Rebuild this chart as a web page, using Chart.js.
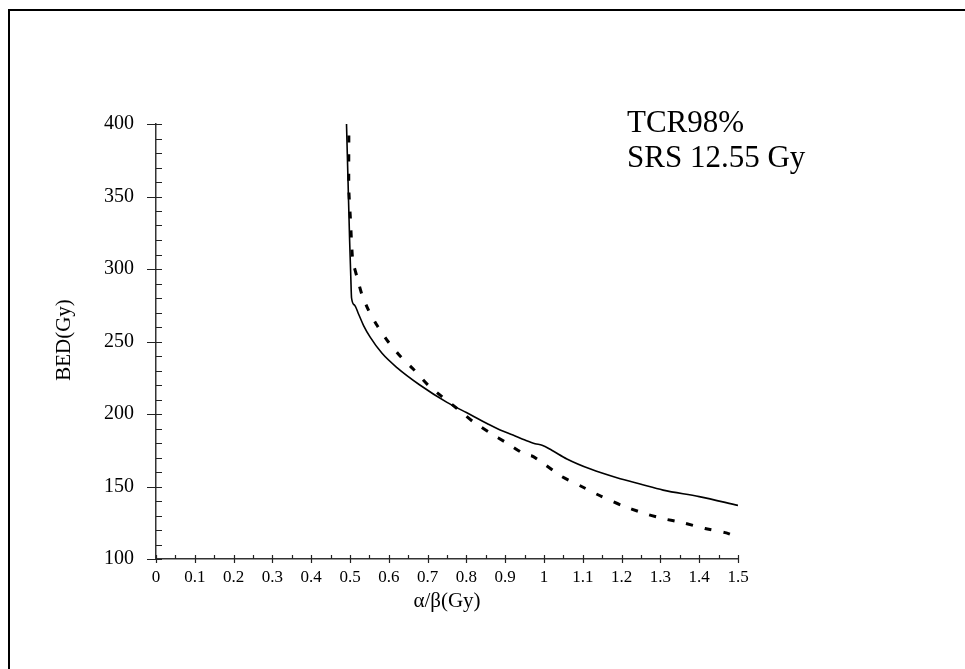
<!DOCTYPE html>
<html>
<head>
<meta charset="utf-8">
<script src="https://cdn.jsdelivr.net/npm/chart.js@4"></script>
<style>
  body { margin: 0; background: #fff; }
  #wrap { position: relative; width: 965px; height: 669px; }
</style>
</head>
<body>
<div id="wrap"><canvas id="bedChart"></canvas></div>
<script>
// alpha/beta (Gy) vs BED (Gy), two curves
const solidX = [0.491, 0.495, 0.499, 0.502, 0.504, 0.512, 0.522, 0.535, 0.552, 0.582, 0.621, 0.68, 0.75, 0.80, 0.853, 0.887, 0.92, 0.951, 0.977, 0.995, 1.02, 1.059, 1.12, 1.188, 1.25, 1.307, 1.40, 1.50];
const solidY = [400, 360, 320, 295, 280, 275, 269, 261, 253, 242, 232, 220, 208, 201, 193.5, 189, 185.5, 182, 179.5, 178.5, 175, 169, 162, 156, 151.5, 147.5, 143, 137];
const dashX = [0.497, 0.497, 0.501, 0.507, 0.518, 0.53, 0.547, 0.57, 0.598, 0.629, 0.663, 0.701, 0.737, 0.775, 0.818, 0.861, 0.904, 0.951, 0.97, 1.003, 1.045, 1.097, 1.149, 1.2, 1.252, 1.304, 1.358, 1.415, 1.47, 1.5];
const dashY = [392, 355, 335, 306, 294.5, 283, 272, 261, 250, 240, 231, 220, 212, 204, 194.5, 187, 180, 172, 171, 165, 157, 150, 143, 137, 132, 128, 125, 121, 118, 115];
const xTicks = [0, 0.1, 0.2, 0.3, 0.4, 0.5, 0.6, 0.7, 0.8, 0.9, 1, 1.1, 1.2, 1.3, 1.4, 1.5];
const yTicks = [100, 150, 200, 250, 300, 350, 400];
const noteLines = ['TCR98%', 'SRS 12.55 Gy'];

const serif = '"Liberation Serif", "DejaVu Serif", serif';

function toPoints(xs, ys) {
    return xs.map((x, i) => ({ x: x, y: ys[i] }));
}

// frame, minor/major ticks, axis titles and the note
const decor = {
    id: 'decor',
    beforeDraw(chart) {
        const c = chart.ctx;
        c.save();
        c.strokeStyle = '#000';
        c.lineWidth = 2;
        c.beginPath();
        c.moveTo(9, 669);
        c.lineTo(9, 10);
        c.lineTo(965, 10);
        c.stroke();
        c.restore();
    },
    afterDraw(chart) {
        const c = chart.ctx;
        const xs = chart.scales.x, ys = chart.scales.y;
        const x0 = xs.left, y0 = ys.bottom;
        c.save();
        c.strokeStyle = '#222';
        c.lineWidth = 1.2;
        c.beginPath();
        // x axis: majors cross the axis, minors above only
        for (let i = 0; i <= 30; i++) {
            const px = Math.round(xs.getPixelForValue(i * 0.05)) + 0.5;
            c.moveTo(px, y0 - 4);
            c.lineTo(px, i % 2 === 0 ? y0 + 4 : y0);
        }
        // y axis: majors cross to the left, minors to the right
        for (let v = 100; v <= 400; v += 10) {
            const py = Math.round(ys.getPixelForValue(v)) + 0.5;
            c.moveTo(v % 50 === 0 ? x0 - 9 : x0, py);
            c.lineTo(x0 + 6, py);
        }
        c.stroke();

        c.fillStyle = '#000';
        c.font = '21px ' + serif;
        c.textAlign = 'center';
        c.textBaseline = 'middle';
        c.fillText('\u03b1/\u03b2(Gy)', 447, 601);
        c.translate(64, 340);
        c.rotate(-Math.PI / 2);
        c.fillText('BED(Gy)', 0, 0);
        c.setTransform(1, 0, 0, 1, 0, 0);

        c.font = '31px ' + serif;
        c.textAlign = 'left';
        c.textBaseline = 'alphabetic';
        noteLines.forEach((t, i) => c.fillText(t, 627, 132 + i * 35));
        c.restore();
    }
};

const ctx = document.getElementById('bedChart').getContext('2d');
const bedChart = new Chart(ctx, {
    type: 'line',
    data: {
        datasets: [{
            label: 'solid',
            data: toPoints(solidX, solidY),
            borderColor: '#000',
            borderWidth: 1.6,
            pointRadius: 0,
            cubicInterpolationMode: 'monotone',
            fill: false
        }, {
            label: 'dashed',
            data: toPoints(dashX, dashY),
            borderColor: '#000',
            borderWidth: 3,
            borderDash: [7, 12],
            pointRadius: 0,
            tension: 0.2,
            fill: false
        }]
    },
    options: {
        responsive: true,
        maintainAspectRatio: false,
        animation: false,
        layout: { padding: { left: 96, right: 227, top: 124, bottom: 70 } },
        plugins: {
            legend: { display: false },
            tooltip: { enabled: false }
        },
        scales: {
            x: {
                type: 'linear',
                min: 0,
                max: 1.5,
                afterBuildTicks: s => { s.ticks = xTicks.map(v => ({ value: v })); },
                afterFit: s => { s.height = 40; },
                grid: { display: false, drawTicks: false },
                border: { display: true, color: '#333', width: 1.5 },
                ticks: {
                    color: '#000',
                    padding: 8,
                    maxRotation: 0,
                    autoSkip: false,
                    font: { family: serif, size: 17 },
                    callback: v => String(v)
                }
            },
            y: {
                min: 100,
                max: 400,
                afterBuildTicks: s => { s.ticks = yTicks.map(v => ({ value: v })); },
                afterFit: s => { s.width = 60; },
                grid: { display: false, drawTicks: false },
                border: { display: true, color: '#333', width: 1.5 },
                ticks: {
                    color: '#000',
                    padding: 22,
                    font: { family: serif, size: 20 }
                }
            }
        }
    },
    plugins: [decor]
});
</script>
</body>
</html>
